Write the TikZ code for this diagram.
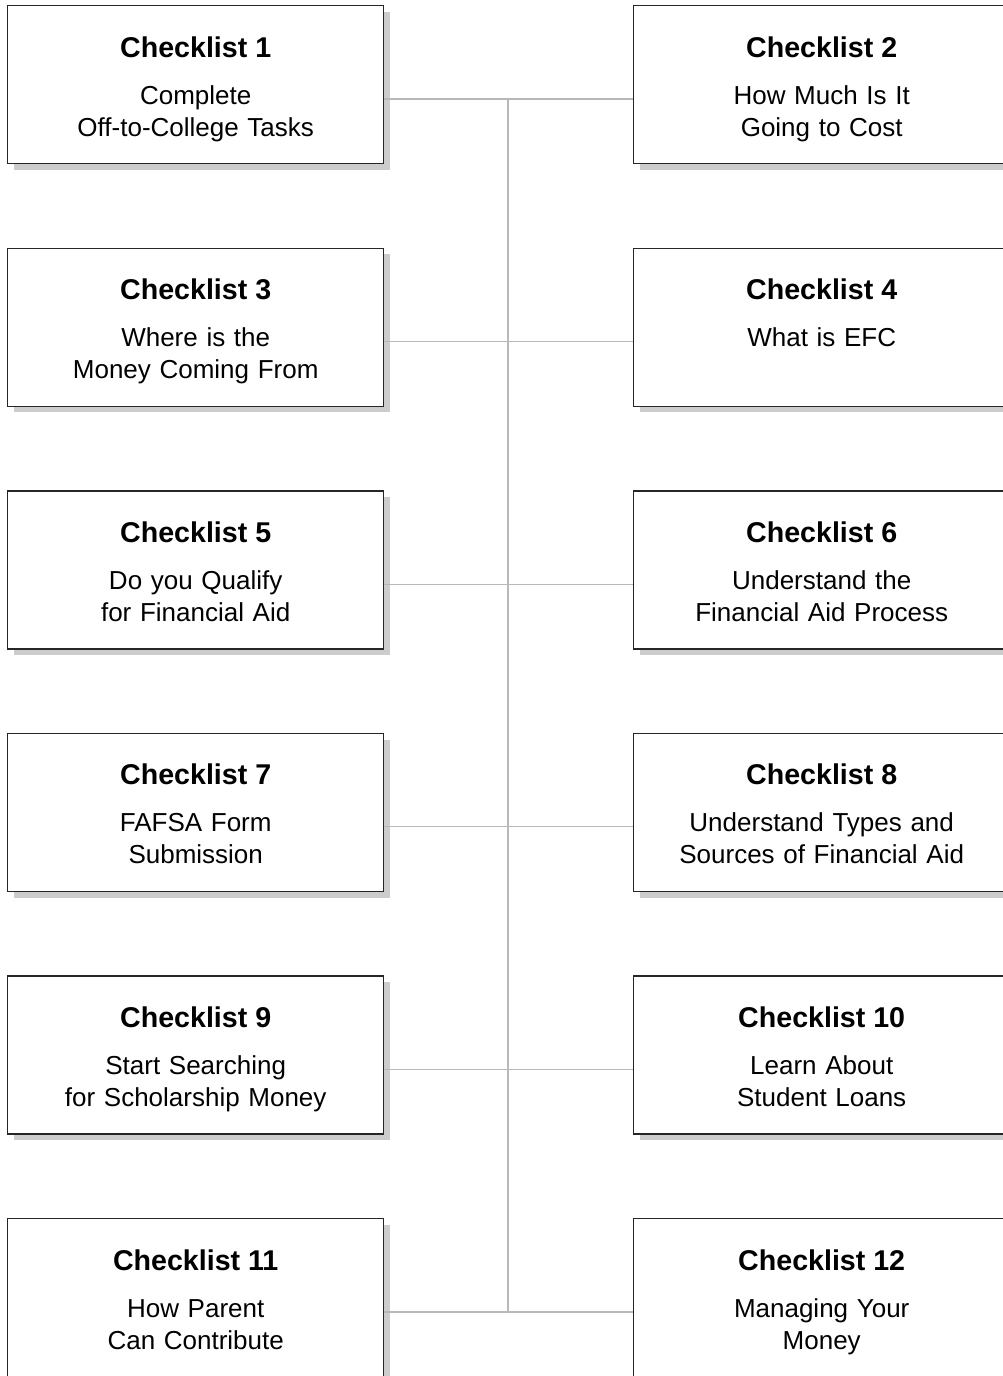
\documentclass[tikz,border=0pt]{standalone}
\usepackage{fontspec}
\setmainfont{Liberation Sans}
\usetikzlibrary{shadows}

\tikzset{
  listbox/.style={draw=black!85, line width=1.4pt, fill=white, minimum width=376pt, minimum height=158pt,
    inner sep=0pt, anchor=north west,
    drop shadow={shadow xshift=6pt, shadow yshift=-6pt, fill=black!20, opacity=1}},
  listtitle/.style={anchor=base, font=\fontsize{28.6}{32}\selectfont\bfseries},
  listtext/.style={anchor=base, text width=370pt, align=center, font=\fontsize{26}{32}\selectfont},
  link/.style={draw=black!28, line width=1.3pt}
}

\begin{document}
\begin{tikzpicture}[x=1pt,y=-1pt]
		\useasboundingbox (0,0) rectangle (1003,1376);
		\clip (0,0) rectangle (1003,1376);
		% boxes
		\foreach \n/\x/\y/\txt in {
			1/7/5/{Complete\\Off-to-College Tasks},
			2/633/5/{How Much Is It\\Going to Cost},
			3/7/247.6/{Where is the\\Money Coming From},
			4/633/247.6/{What is EFC},
			5/7/490.2/{Do you Qualify\\for Financial Aid},
			6/633/490.2/{Understand the\\Financial Aid Process},
			7/7/732.8/{FAFSA Form\\Submission},
			8/633/732.8/{Understand Types and\\Sources of Financial Aid},
			9/7/975.4/{Start Searching\\for Scholarship Money},
			10/633/975.4/{Learn About\\Student Loans},
			11/7/1218/{How Parent\\Can Contribute},
			12/633/1218/{Managing Your\\Money}} {
			\node[listbox] (box\n) at (\x,\y) {};
			\node[listtitle] (t\n) at ([yshift=-52pt]box\n.north) {Checklist \n};
			\node[listtext] (b\n) at ([yshift=-99pt]box\n.north) {\txt};
		}
		% links
		\foreach \l/\r/\y in {1/2/99, 3/4/341.6, 5/6/584.2, 7/8/826.8, 9/10/1069.4, 11/12/1312} {
			\coordinate (j\l) at (508,\y);
			\draw[link] (box\l.east |- j\l) -- (box\r.west |- j\l);
		}
		\draw[link] (j1) -- (j11);
	\end{tikzpicture}
\end{document}
